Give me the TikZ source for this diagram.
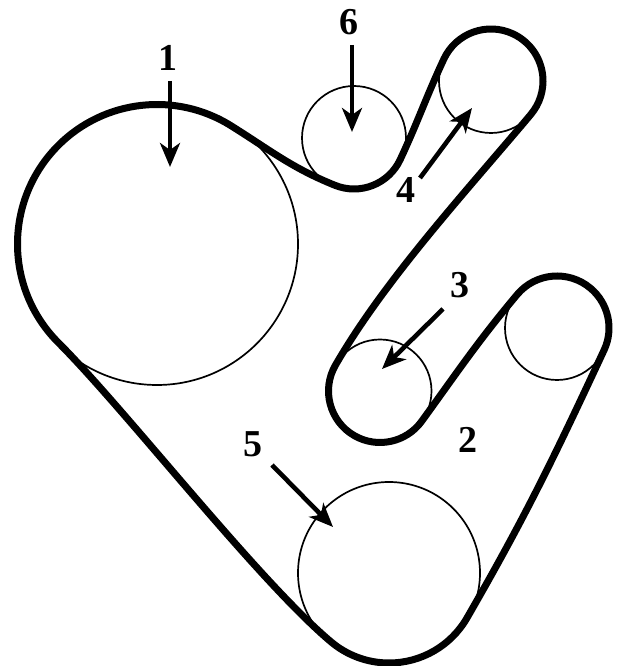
\documentclass[tikz,border=0pt]{standalone}
\usepackage{fontspec}
\setmainfont{Liberation Serif}
\usetikzlibrary{arrows.meta, calc}
\tikzset{
  pulley/.style={draw, circle, line width=1.7pt, inner sep=0pt},
  belt/.style={line width=7pt, line join=round},
  callout/.style={line width=4.6pt, -{Stealth[length=24pt, width=20pt, inset=7pt]}},
  tag/.style={font=\fontsize{38}{38}\selectfont\bfseries, inner sep=0pt}
}
\begin{document}
\begin{tikzpicture}[x=1pt, y=1pt]
  \useasboundingbox (0,0) rectangle (618,666);
  % pulleys
  \node[pulley, minimum size=282pt] (p1) at (157,422) {};
  \node[pulley, minimum size=104pt] (p6) at (354,528) {};
  \node[pulley, minimum size=104pt] (p4) at (491,585) {};
  \node[pulley, minimum size=103pt] (p3) at (380,275) {};
  \node[pulley, minimum size=104pt] (p2) at (557,338) {};
  \node[pulley, minimum size=182pt] (p5) at (389,93) {};
  % belt
  \draw[belt] ($(p1)+(225:139.5)$) arc[start angle=225, end angle=58, radius=139.5]
    to[out=-32, in=158] ($(p6)+(-112:51)$) arc[start angle=-112, end angle=-25, radius=51]
    to[out=65, in=245] ($(p4)+(155:52)$) arc[start angle=155, end angle=-40, radius=52]
    to[out=-130, in=60, looseness=0.8] ($(p3)+(150:51.5)$) arc[start angle=150, end angle=324, radius=51.5]
    to[out=54, in=230] ($(p2)+(140:52)$) arc[start angle=140, end angle=-25, radius=52]
    to[out=-115, in=60] ($(p5)+(-30:90)$) arc[start angle=-30, end angle=-130, radius=90]
    to[out=140, in=-45, looseness=0.6] ($(p1)+(225:139.5)$) -- cycle;
  % labels
  \node[tag] (lbl1) at (168,608) {1};
  \node[tag] (lbl6) at (349,644) {6};
  \node[tag] (lbl4) at (406,476) {4};
  \node[tag] (lbl3) at (460,381) {3};
  \node[tag] (lbl2) at (468,226) {2};
  \node[tag] (lbl5) at (253,222) {5};
  \coordinate (tip1) at (170,499);
  \coordinate (tip6) at (352,534);
  \coordinate (tip4) at (472,558);
  \coordinate (tip3) at (382,297);
  \coordinate (tip5) at (333,139);
  % arrows
  \draw[callout] ($(lbl1)+(2,-23)$) -- (tip1);
  \draw[callout] ($(lbl6)+(3,-23)$) -- (tip6);
  \draw[callout] ($(lbl4)+(14,12)$) -- (tip4);
  \draw[callout] ($(lbl3)+(-17,-24)$) -- (tip3);
  \draw[callout] ($(lbl5)+(19,-21)$) -- (tip5);
\end{tikzpicture}
\end{document}
